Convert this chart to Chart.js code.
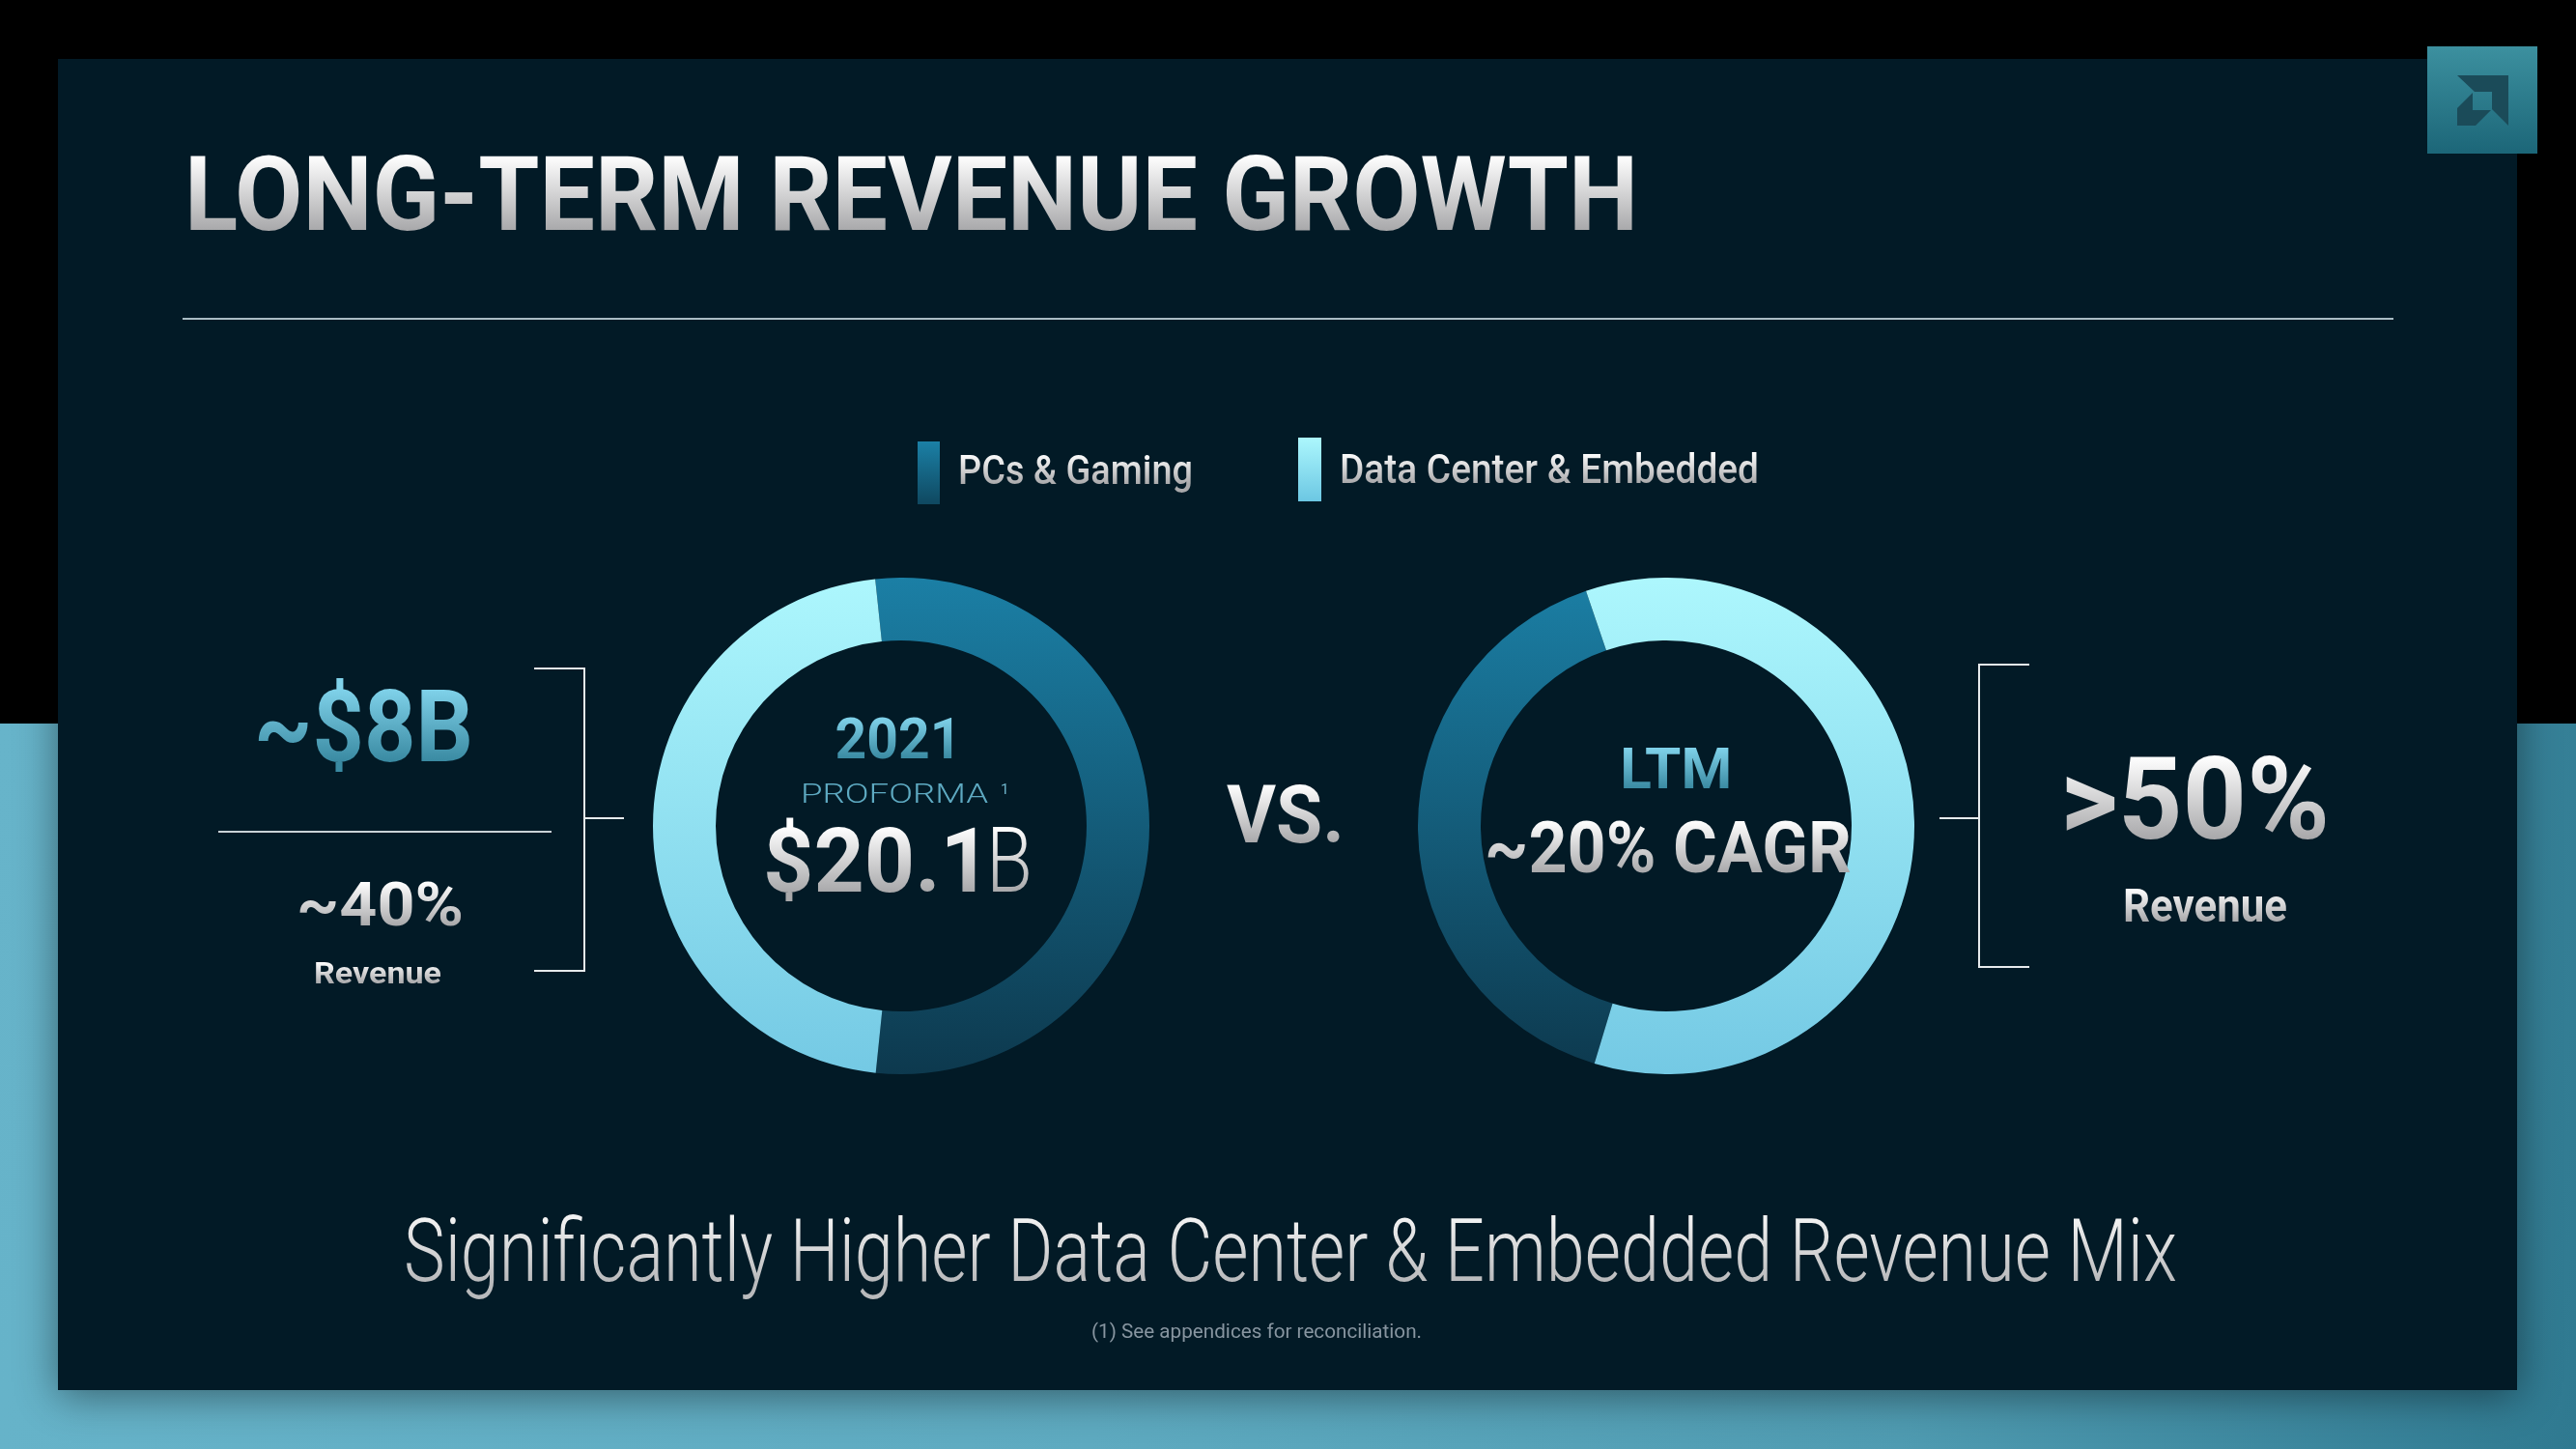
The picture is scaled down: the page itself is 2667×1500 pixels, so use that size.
<!DOCTYPE html>
<html>
<head>
<meta charset="utf-8">
<script src="https://cdn.jsdelivr.net/npm/chart.js@4.4.1/dist/chart.umd.min.js"></script>
<style>
  html, body { margin: 0; padding: 0; }
  body {
    width: 2667px; height: 1500px; overflow: hidden; position: relative;
    background: #000;
  }
  #teal {
    position: absolute; left: 0; top: 749px; width: 2667px; height: 751px;
    background: linear-gradient(100deg, #67b4ca 0%, #5eaac0 45%, #4f9bb1 75%, #2f7990 100%);
  }
  #panel {
    position: absolute; left: 60px; top: 61px; width: 2546px; height: 1378px;
    background: #021a26;
    box-shadow: 0 6px 40px rgba(0, 0, 0, 0.45);
  }
  .txt { position: absolute; white-space: nowrap; }
  .ln { position: absolute; background: #e6eaec; }
  .sw { position: absolute; }
  canvas.ring { position: absolute; }
  #logo {
    position: absolute; left: 2513px; top: 48px; width: 114px; height: 111px;
    background: linear-gradient(to bottom, #3c909f, #1c6678);
  }
</style>
</head>
<body>
<div id="teal"></div>
<div id="panel"></div>
<div id="logo">
  <svg width="114" height="111" viewBox="0 0 114 111">
    <polygon points="31,30 84,30 84,82 67,65 67,47 49,47" fill="#1b4b59"/>
    <polygon points="47,48 31,64 31,82 50,82 66,66 47,66" fill="#1b4b59"/>
  </svg>
</div>
<canvas id="ring2021" class="ring" width="514" height="514" style="left:676px;top:598px"></canvas>
<canvas id="ringLTM" class="ring" width="514" height="514" style="left:1468px;top:598px"></canvas>

<script>
// segments
var categories = ['PCs & Gaming', 'Data Center & Embedded'];
var share2021 = [53.3, 46.7];
var shareLTM = [40.1, 59.9];

// gradient pairs (top, bottom) for each segment
var segColors = [['#1b7fa5', '#0d394e'], ['#adf7fd', '#74c9e4']];

var SILVER = ['#ffffff', '#a9a9ab'];
var TEAL = ['#80d2ea', '#3a8aa2'];

function ringFill(c) {
    var cols = segColors[c.dataIndex];
    var area = c.chart.chartArea;
    if (!area) return cols[0];
    var g = c.chart.ctx.createLinearGradient(0, area.top, 0, area.bottom);
    g.addColorStop(0, cols[0]);
    g.addColorStop(1, cols[1]);
    return g;
}

function ring(id, values, rot) {
    return new Chart(document.getElementById(id), {
        type: 'doughnut',
        data: {
            labels: categories,
            datasets: [{
                data: values,
                backgroundColor: ringFill,
                borderWidth: 0,
                hoverOffset: 0
            }]
        },
        options: {
            responsive: false,
            animation: false,
            cutout: '74.7%',
            rotation: rot,
            layout: { padding: 0 },
            plugins: { legend: { display: false }, tooltip: { enabled: false } }
        }
    });
}

ring('ring2021', share2021, -6);
ring('ringLTM', shareLTM, 196.8);

var meas = document.createElement('canvas').getContext('2d');
function put(s) {
    var fam = s.fam || 'Roboto';
    meas.font = s.wt + ' 100px ' + fam;
    var capR = meas.measureText('H').actualBoundingBoxAscent / 100;
    var size = s.cap / capR;
    var font = s.wt + ' ' + size + 'px ' + fam;
    meas.font = font;
    var m = meas.measureText(s.t);
    var A = m.fontBoundingBoxAscent, D = m.fontBoundingBoxDescent;
    var el = document.createElement('div');
    el.className = 'txt';
    el.textContent = s.t;
    el.style.font = font;
    el.style.lineHeight = (A + D) + 'px';
    el.style.height = (A + D) + 'px';
    el.style.top = (s.base - A) + 'px';
    var sx = s.w ? s.w / m.width : 1;
    if (s.cx !== undefined) {
        el.style.left = (s.cx - m.width / 2) + 'px';
        el.style.transformOrigin = 'center';
    } else {
        el.style.left = s.x + 'px';
        el.style.transformOrigin = 'left';
    }
    el.style.transform = 'scaleX(' + sx + ')';
    if (Array.isArray(s.fill)) {
        var p1 = (A - s.cap) / (A + D) * 100, p2 = A / (A + D) * 100;
        el.style.background = 'linear-gradient(to bottom, ' + s.fill[0] + ' ' + p1 + '%, ' + s.fill[1] + ' ' + p2 + '%)';
        el.style.webkitBackgroundClip = 'text';
        el.style.backgroundClip = 'text';
        el.style.color = 'transparent';
    } else {
        el.style.color = s.fill;
    }
    document.body.appendChild(el);
}

function line(x, y, w, h, col) {
    var d = document.createElement('div');
    d.className = 'ln';
    d.style.left = x + 'px'; d.style.top = y + 'px';
    d.style.width = w + 'px'; d.style.height = h + 'px';
    if (col) d.style.background = col;
    document.body.appendChild(d);
}

function swatch(x, y, w, h, cols) {
    var d = document.createElement('div');
    d.className = 'sw';
    d.style.left = x + 'px'; d.style.top = y + 'px';
    d.style.width = w + 'px'; d.style.height = h + 'px';
    d.style.background = 'linear-gradient(to bottom, ' + cols[0] + ', ' + cols[1] + ')';
    document.body.appendChild(d);
}

// title + rule
put({ t: 'LONG-TERM REVENUE GROWTH', x: 191, base: 238, cap: 77, w: 1505, wt: 700, fill: SILVER });
line(189, 329, 2289, 2, '#a9bcc4');

// legend
swatch(950, 457, 23, 65, ['#1b80a6', '#0f4860']);
put({ t: categories[0], x: 992, base: 501, cap: 31, w: 243, wt: 500, fill: SILVER });
swatch(1344, 453, 24, 66, ['#acf7fd', '#6cc7e3']);
put({ t: categories[1], x: 1387, base: 500, cap: 31, w: 434, wt: 500, fill: SILVER });

// left ring centre
put({ t: '2021', cx: 930, base: 785, cap: 42, w: 131, wt: 700, fill: TEAL });
put({ t: 'PROFORMA', x: 829, base: 831, cap: 20, w: 194, wt: 300, fill: '#5eaac2' });
put({ t: '1', x: 1036, base: 822, cap: 11, wt: 400, fill: '#6fb6cc' });
put({ t: '$20.1', x: 790, base: 923, cap: 67, w: 236, wt: 700, fill: SILVER });
put({ t: 'B', x: 1021, base: 923, cap: 67, w: 48, wt: 300, fill: SILVER });

put({ t: 'VS.', x: 1270, base: 872, cap: 60, w: 122, wt: 700, fill: SILVER });

// right ring centre
put({ t: 'LTM', cx: 1735, base: 816, cap: 42, w: 116, wt: 700, fill: TEAL });
put({ t: '~20% CAGR', x: 1537, base: 903, cap: 53, w: 380, wt: 700, fill: SILVER });

// left callout
put({ t: '~$8B', x: 263, base: 788, cap: 75, w: 227, wt: 700, fill: TEAL });
line(226, 860, 345, 2, '#c9d2d6');
put({ t: '~40%', x: 307, base: 958, cap: 45, w: 173, wt: 700, fill: SILVER });
put({ t: 'Revenue', x: 325, base: 1018, cap: 22, w: 132, wt: 700, fill: SILVER });
line(604, 691, 2, 315);
line(553, 691, 52, 2);
line(553, 1004, 52, 2);
line(605, 846, 41, 2);

// right callout
line(2048, 687, 2, 315);
line(2048, 687, 53, 2);
line(2048, 1000, 53, 2);
line(2008, 846, 41, 2);
put({ t: '>50%', x: 2133, base: 868, cap: 85, w: 279, wt: 700, fill: SILVER });
put({ t: 'Revenue', x: 2198, base: 954, cap: 34, w: 170, wt: 700, fill: SILVER });

// bottom
put({ t: 'Significantly Higher Data Center & Embedded Revenue Mix', x: 418, base: 1326, cap: 64, w: 1836, wt: 300, fill: ['#f2f2f2', '#b9babc'] });
put({ t: '(1) See appendices for reconciliation.', x: 1130, base: 1385, cap: 15, w: 342, wt: 400, fill: '#8795a0' });
</script>
</body>
</html>
